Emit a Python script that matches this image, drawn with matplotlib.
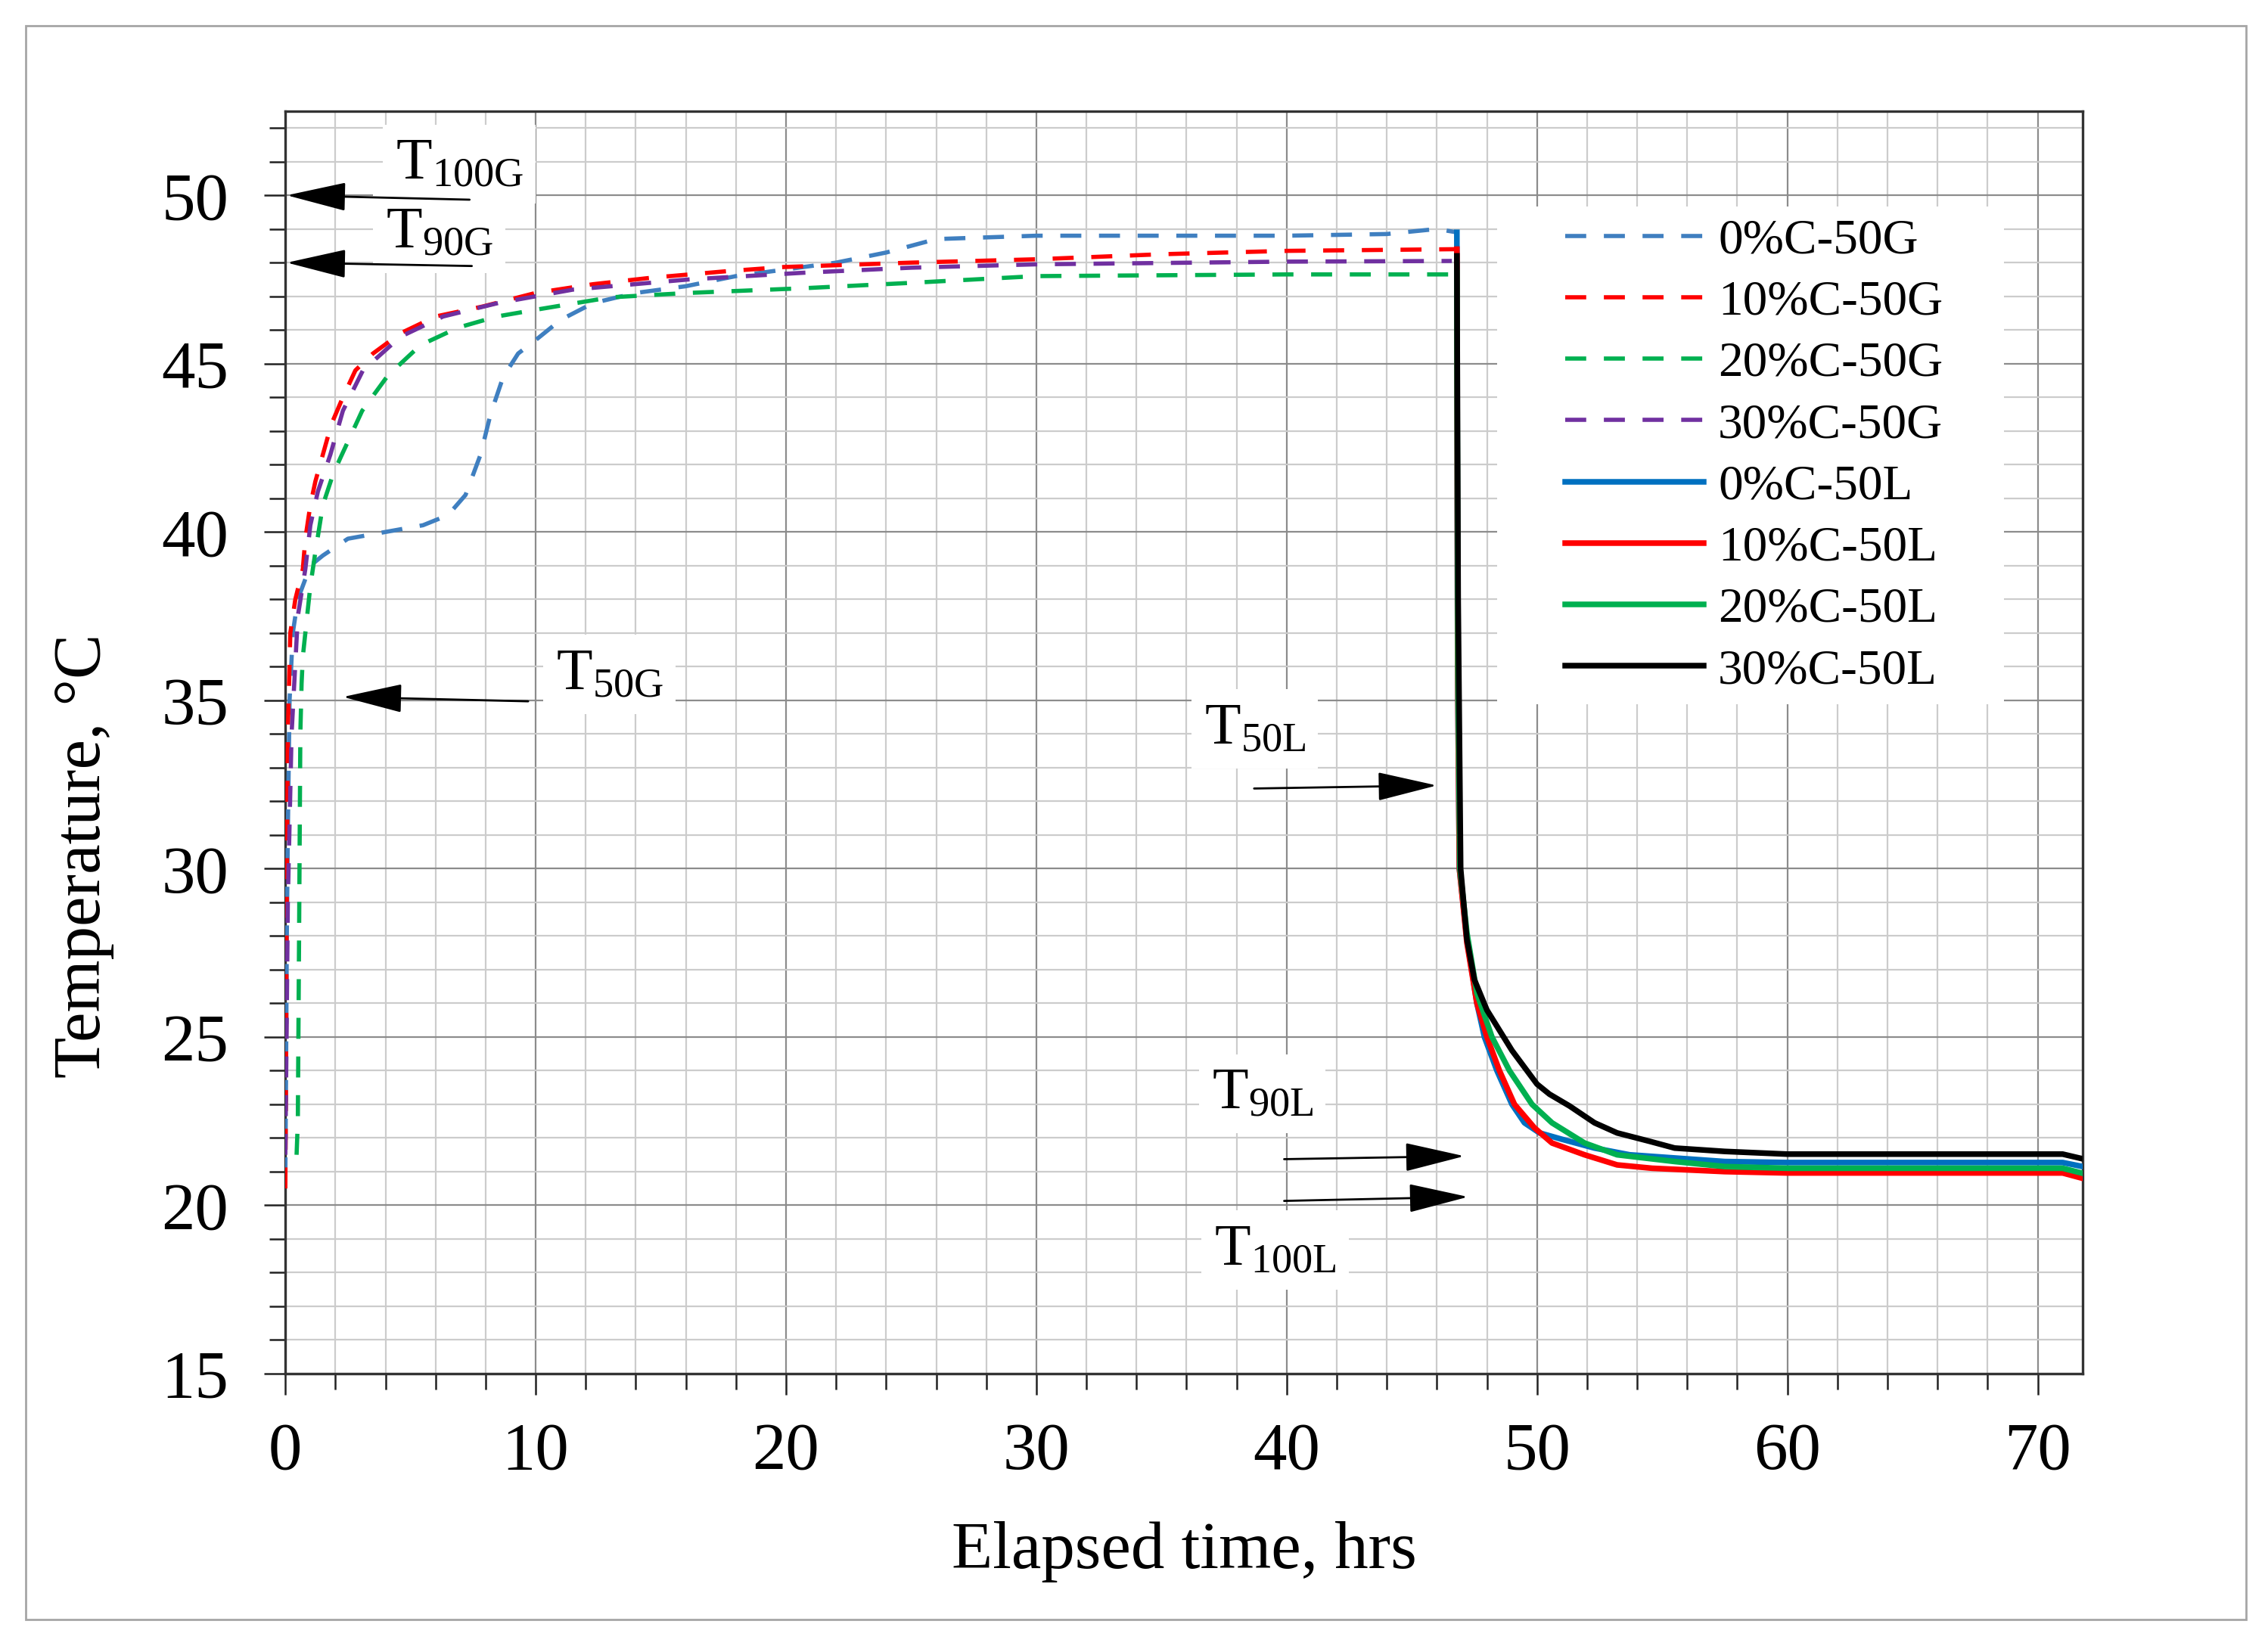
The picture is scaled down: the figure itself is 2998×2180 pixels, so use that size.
import matplotlib
matplotlib.use("Agg")
from matplotlib import pyplot as plt
from matplotlib.patches import Rectangle
from matplotlib.ticker import MultipleLocator

plt.rcParams['font.family'] = ['Liberation Serif', 'DejaVu Serif']
plt.rcParams['mathtext.fontset'] = 'custom'
plt.rcParams['mathtext.rm'] = 'Liberation Serif'
plt.rcParams['mathtext.it'] = 'Liberation Serif:italic'

# heating (G) curves
t_0g = [0, 0.03, 0.06, 0.1, 0.17, 0.3, 0.5, 1.0, 1.5, 2.5, 4.0, 5.5, 6.5, 7.2, 7.8, 8.2, 8.7,
        9.3, 10.0, 11.0, 12.3, 14.0, 16.0, 18.0, 20.0, 22.0, 24.0, 26.0, 30.0, 40.0, 44.0, 46.0, 46.8]
T_0g = [20.8, 24, 28, 31, 35, 37, 38, 39.0, 39.3, 39.8, 40.0, 40.2, 40.5, 41.1, 42.3, 43.5, 44.6,
        45.3, 45.7, 46.3, 46.8, 47.1, 47.3, 47.6, 47.8, 48.0, 48.3, 48.7, 48.8, 48.8, 48.85, 49.0, 48.9]

t_10g = [0, 0.03, 0.05, 0.1, 0.2, 0.4, 0.7, 0.8, 1.0, 1.2, 1.5, 1.84, 2.3, 2.8, 3.5, 4.6, 6.0,
         7.9, 10.0, 12.3, 14.6, 17.7, 19.9, 25, 30, 35, 40, 46.8]
T_10g = [20.5, 24, 28, 34, 37, 38, 38.9, 39.8, 40.8, 41.5, 42.3, 43.2, 44.0, 44.8, 45.3, 45.9, 46.4,
         46.7, 47.1, 47.36, 47.55, 47.75, 47.87, 48.0, 48.1, 48.25, 48.35, 48.4]

t_20g = [0.45, 0.5, 0.55, 0.6, 0.65, 0.7, 1.0, 1.2, 1.5, 1.9, 2.2, 3.07, 4.1, 5.4, 6.9, 8.45,
         10, 13, 16.1, 20.7, 25, 30, 40, 46.6]
T_20g = [21.5, 22.5, 28, 34, 35.5, 36.3, 38.4, 39.4, 40.8, 41.7, 42.2, 43.6, 44.65, 45.55, 46.07, 46.4,
         46.6, 46.97, 47.1, 47.24, 47.4, 47.6, 47.65, 47.65]

t_30g = [0, 0.05, 0.1, 0.25, 0.5, 0.8, 1.0, 1.3, 1.8, 2.3, 3.1, 4.6, 6.3, 8.5, 11.5, 16.1, 20.7,
         25, 30, 40, 46.6]
T_30g = [21.5, 25, 29, 34, 37.5, 38.9, 40.2, 41.2, 42.3, 43.6, 44.8, 45.8, 46.4, 46.8, 47.2, 47.5, 47.7,
         47.85, 47.95, 48.03, 48.05]

# cooling (L) curves
t_0l = [46.8, 46.83, 46.9, 47.2, 47.6, 47.9, 48.4, 49.0, 49.5, 50.1, 51.0, 52.3, 53.7, 57.5,
        60, 65, 71.0, 71.8]
T_0l = [48.9, 36, 30, 27.9, 26.0, 25.0, 24.0, 23.0, 22.45, 22.15, 21.96, 21.7, 21.5, 21.3,
        21.27, 21.27, 21.27, 21.15]

t_10l = [46.8, 46.83, 46.9, 47.2, 47.6, 48.0, 48.5, 49.1, 49.9, 50.6, 51.9, 53.2, 54.6, 57.5,
         60, 65, 71.0, 71.8]
T_10l = [48.4, 36, 30, 27.8, 26.0, 25.0, 24.0, 23.0, 22.3, 21.85, 21.5, 21.2, 21.1, 21.0,
         20.96, 20.96, 20.96, 20.8]

t_20l = [46.8, 46.84, 46.92, 47.2, 47.6, 48.2, 48.9, 49.8, 50.6, 51.9, 53.2, 55.5, 57.5,
         60, 65, 71.0, 71.8]
T_20l = [47.7, 36, 30, 28.1, 26.3, 25.0, 24.0, 23.0, 22.45, 21.85, 21.5, 21.3, 21.15,
         21.1, 21.1, 21.1, 20.95]

t_30l = [46.8, 46.85, 46.95, 47.2, 47.5, 48.0, 48.5, 49.0, 49.6, 50.0, 50.5, 51.3, 52.3, 53.2,
         54.5, 55.5, 57.5, 60, 65, 71.0, 71.8]
T_30l = [48.2, 38, 30.0, 27.9, 26.7, 25.8, 25.2, 24.6, 24.0, 23.6, 23.3, 22.95, 22.45, 22.15,
         21.9, 21.7, 21.6, 21.52, 21.52, 21.52, 21.38]

labels_g = ['0%C-50G', '10%C-50G', '20%C-50G', '30%C-50G']
labels_l = ['0%C-50L', '10%C-50L', '20%C-50L', '30%C-50L']
colors_g = ['#3f7fc0', '#ff0000', '#00b050', '#7030a0']
colors_l = ['#0070c0', '#ff0000', '#00b050', '#000000']

fig = plt.figure(figsize=(14.99, 10.9), dpi=200)
ax = fig.add_axes([0.1258, 0.1670, 0.7925, 0.7656])

# outer frame round the whole picture
fig.patches.append(Rectangle((34 / 2998, 1 - 2141 / 2180), 2935 / 2998, 2107 / 2180,
                             transform=fig.transFigure, fill=False, edgecolor='#a6a6a6', lw=1.0))

for t, T, c, lab in zip([t_0g, t_10g, t_20g, t_30g], [T_0g, T_10g, T_20g, T_30g], colors_g, labels_g):
    ax.plot(t, T, color=c, lw=2.0, dashes=(5, 4.2), label=lab, zorder=3)
for t, T, c, lab in zip([t_0l, t_10l, t_20l, t_30l], [T_0l, T_10l, T_20l, T_30l], colors_l, labels_l):
    ax.plot(t, T, color=c, lw=2.7, label=lab, zorder=4)

ax.set_xlim(0, 71.8)
ax.set_ylim(15, 52.5)
ax.xaxis.set_major_locator(MultipleLocator(10))
ax.xaxis.set_minor_locator(MultipleLocator(2))
ax.yaxis.set_major_locator(MultipleLocator(5))
ax.yaxis.set_minor_locator(MultipleLocator(1))
ax.grid(which='minor', color='#cccccc', lw=0.8, zorder=0)
ax.grid(which='major', color='#8c8c8c', lw=0.8, zorder=0)
ax.set_axisbelow(True)

ax.tick_params(axis='both', which='major', length=10, width=0.9, labelsize=32, color='#222222')
ax.tick_params(axis='both', which='minor', length=7.5, width=0.9, color='#222222')
ax.tick_params(axis='y', which='major', pad=17)
ax.tick_params(axis='x', which='major', pad=13)
for s in ax.spines.values():
    s.set_color('#333333')
    s.set_linewidth(1.2)

ax.set_xlabel('Elapsed time, hrs', fontsize=32, labelpad=18)
ax.set_ylabel('Temperature, °C', fontsize=32)
ax.yaxis.set_label_coords(-0.095, 0.41)

# legend on a white patch that hides the grid
ax.add_patch(Rectangle((0.674, 0.530), 0.282, 0.3945, transform=ax.transAxes,
                       facecolor='white', edgecolor='none', zorder=2.5))
ax.legend(loc='upper left', bbox_to_anchor=(0.712, 0.915), frameon=False, fontsize=23.5,
          handlelength=2.8, handletextpad=0.3, labelspacing=0.33, borderpad=0, borderaxespad=0)

# T markers with arrows
arrow = dict(arrowstyle='-|>,head_length=1.0,head_width=0.24', color='black', lw=1.0,
             mutation_scale=25, shrinkA=0, shrinkB=0)
box = dict(facecolor='white', edgecolor='none', pad=6)
marks = [
    (r'T$_{\mathrm{100G}}$', 4.4, 50.5, (7.36, 49.87), (0.06, 50.0)),
    (r'T$_{\mathrm{90G}}$', 4.0, 48.45, (7.45, 47.9), (0.06, 48.0)),
    (r'T$_{\mathrm{50G}}$', 10.8, 35.35, (9.7, 34.97), (2.3, 35.1)),
    (r'T$_{\mathrm{50L}}$', 36.7, 33.73, (38.7, 32.38), (46.0, 32.47)),
    (r'T$_{\mathrm{90L}}$', 37.0, 22.9, (39.9, 21.37), (47.1, 21.46)),
    (r'T$_{\mathrm{100L}}$', 37.1, 18.25, (39.9, 20.13), (47.25, 20.25)),
]
for txt, tx, ty, tail, head in marks:
    ax.text(tx, ty, txt, fontsize=28, ha='left', va='baseline', bbox=box, zorder=5)
    ax.annotate('', xy=head, xytext=tail, arrowprops=arrow, zorder=6)

fig.savefig('out.png', dpi=200)
